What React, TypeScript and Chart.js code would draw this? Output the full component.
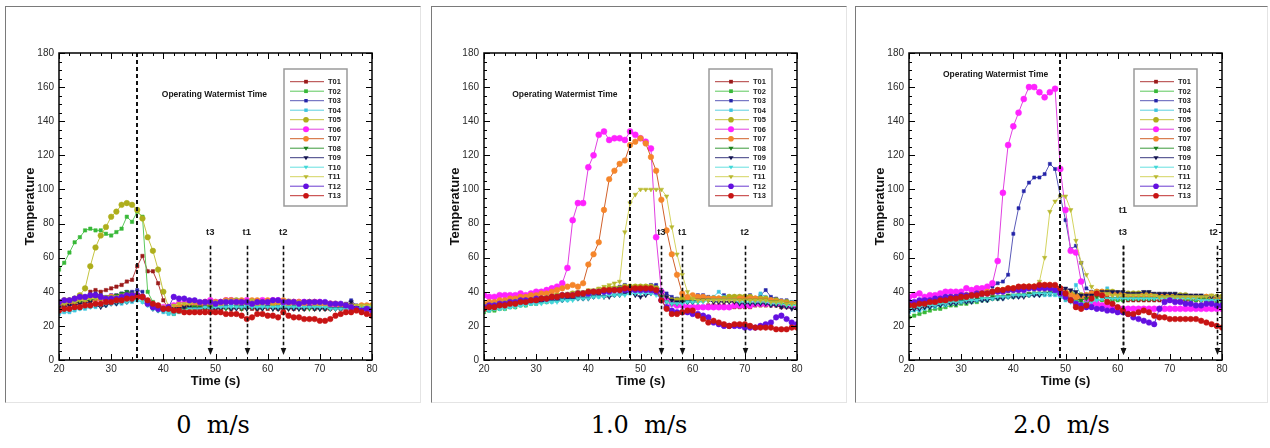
import React, { useEffect, useRef } from "react";
import { Chart, registerables } from "chart.js";

Chart.register(...registerables);

// ---------------- DATA ----------------
const TIMES = [
  20, 21, 22, 23, 24, 25, 26, 27, 28, 29,
  30, 31, 32, 33, 34, 35, 36, 37, 38, 39,
  40, 41, 42, 43, 44, 45, 46, 47, 48, 49,
  50, 51, 52, 53, 54, 55, 56, 57, 58, 59,
  60, 61, 62, 63, 64, 65, 66, 67, 68, 69,
  70, 71, 72, 73, 74, 75, 76, 77, 78, 79,
  80,
];

const SERIES_NAMES = ["T01", "T02", "T03", "T04", "T05", "T06", "T07", "T08", "T09", "T10", "T11", "T12", "T13"];
const CAPTIONS = ["0  m/s", "1.0  m/s", "2.0  m/s"];
const X_TICKS = [20, 30, 40, 50, 60, 70, 80];
const Y_TICKS = [0, 20, 40, 60, 80, 100, 120, 140, 160, 180];
const X_TITLE = "Time (s)";
const Y_TITLE = "Temperature";
const NOTE_TEXT = "Operating Watermist Time";

// Panel 1: 0 m/s
const P1_T01 = [33,33,34,34,35,36,40,41,40,41, 42,43,44,46,47,55,61,52,52,45, 35,30,30,31,30,29,30,29,30,29, 30,30,31,30,31,30,31,30,30,31, 30,31,30,31,31,30,31,30,31,30, 31,30,30,31,30,30,30,30,29,29, 29];
const P1_T02 = [53,57,63,69,72,76,77,76,76,74, 73,75,77,84,81,87,84,40,34,32, 30,28,27,29,30,31,32,32,33,33, 32,33,34,33,33,32,33,33,32,33, 33,32,32,33,32,33,32,33,32,32, 32,32,31,32,31,32,31,31,31,31, 31];
const P1_T03 = [32,33,34,35,36,37,38,39,38,37, 38,38,39,40,40,41,40,33,31,30, 29,30,31,30,28,31,31,32,32,33, 32,33,33,33,34,33,34,33,33,34, 33,34,33,33,34,33,33,34,33,32, 33,33,32,32,32,33,35,32,31,31, 31];
const P1_T04 = [27,28,28,29,30,30,31,31,32,32, 33,33,33,34,34,35,34,32,30,29, 28,27,27,28,29,30,30,31,31,31, 31,31,32,32,32,31,32,32,32,31, 32,32,31,32,32,31,32,32,31,32, 31,31,31,31,30,31,30,30,30,30, 30];
const P1_T05 = [34,35,35,36,38,42,55,66,73,78, 84,87,91,92,91,88,83,72,64,53, 40,31,30,29,29,30,31,32,32,33, 33,33,34,35,35,34,34,34,33,34, 34,33,34,34,33,34,34,33,34,33, 33,33,33,32,32,32,32,31,31,31, 31];
const P1_T06 = [33,33,34,34,35,35,36,36,36,36, 37,37,37,38,38,38,37,34,32,31, 31,31,32,33,33,34,34,33,34,35, 34,34,35,35,34,34,35,34,34,35, 34,35,35,34,34,34,34,34,33,34, 34,33,33,32,32,31,30,30,30,30, 30];
const P1_T07 = [32,33,33,34,34,35,35,36,36,36, 37,37,37,38,38,38,37,33,31,31, 30,30,31,32,32,33,34,33,34,34, 34,34,35,35,34,35,34,35,35,34, 35,34,34,35,34,34,34,33,34,34, 33,33,33,33,32,32,32,31,32,32, 32];
const P1_T08 = [33,33,34,34,34,35,35,36,36,37, 37,38,39,40,39,38,37,33,31,30, 30,29,29,30,30,31,31,31,30,31, 31,30,30,30,31,30,30,31,30,30, 31,30,30,30,30,31,30,30,30,30, 30,30,30,30,30,30,30,31,31,31, 31];
const P1_T09 = [31,31,32,32,33,33,34,32,31,32, 33,33,34,34,35,37,36,33,30,29, 29,29,30,30,31,31,30,30,31,30, 30,30,31,30,30,31,30,31,30,30, 31,30,30,30,30,30,30,30,31,30, 30,30,30,30,30,31,34,31,30,30, 30];
const P1_T10 = [28,29,29,30,30,31,31,32,32,33, 33,34,34,34,35,35,34,32,30,29, 29,28,28,29,29,30,30,30,31,30, 31,31,31,31,31,31,31,31,31,31, 31,31,31,31,31,31,31,31,31,31, 31,31,30,30,30,30,30,30,31,31, 31];
const P1_T11 = [33,33,34,34,35,35,36,36,36,37, 37,37,38,38,38,37,36,34,32,31, 31,31,32,33,33,33,34,34,34,34, 34,34,35,35,34,34,34,35,34,34, 34,34,34,34,35,34,34,34,34,33, 33,33,33,33,33,32,32,32,32,32, 32];
const P1_T12 = [34,35,35,36,37,37,38,38,37,36, 36,36,37,38,38,38,37,33,31,30, 30,31,37,36,36,35,35,34,34,34, 33,34,34,34,34,34,34,33,34,34, 34,35,35,34,34,34,33,34,34,34, 34,34,33,33,33,32,31,30,29,30, 29];
const P1_T13 = [29,30,30,31,31,32,32,33,33,34, 34,35,35,36,36,37,37,35,33,32, 30,30,29,29,28,28,28,28,28,28, 28,28,27,27,27,26,24,25,27,27, 26,26,25,28,26,25,25,24,24,24, 23,23,24,26,27,28,28,29,28,27, 26];

// Panel 2: 1.0 m/s
const P2_T01 = [31,32,32,33,33,34,34,35,35,35, 36,36,37,37,38,38,38,39,39,39, 40,40,40,41,41,41,41,42,42,42, 42,42,41,41,38,35,33,32,32,31, 31,31,31,32,32,32,32,31,31,31, 31,31,32,32,32,32,32,31,31,31, 31];
const P2_T02 = [28,29,29,30,30,31,31,32,32,33, 33,34,34,35,35,36,36,37,37,38, 38,39,39,40,40,41,41,42,42,43, 43,43,43,42,38,35,34,34,34,35, 35,35,35,36,36,36,36,35,35,35, 35,35,36,36,36,35,35,34,33,32, 32];
const P2_T03 = [30,31,31,32,32,33,33,34,34,34, 34,34,35,35,35,36,36,36,37,37, 38,38,39,40,41,42,43,44,43,42, 42,43,44,44,41,39,37,36,36,35, 37,38,38,37,36,36,38,37,37,36, 37,38,36,38,41,37,36,35,35,34, 34];
const P2_T04 = [29,29,30,30,31,31,32,32,33,33, 33,34,34,34,35,35,35,36,36,36, 37,37,37,38,38,38,39,39,39,39, 40,40,40,39,37,35,33,32,33,34, 34,35,35,36,37,40,37,36,36,36, 36,35,35,39,37,35,35,34,34,34, 34];
const P2_T05 = [32,32,33,33,34,34,35,35,35,36, 36,36,37,37,38,38,38,39,39,39, 40,40,41,41,42,42,42,43,43,43, 43,43,43,42,39,36,35,35,36,36, 36,36,36,36,36,36,36,37,37,37, 37,37,36,36,36,35,35,34,34,33, 33];
const P2_T06 = [38,37,37,38,38,38,38,39,38,39, 40,40,41,42,43,45,54,82,92,92, 113,120,132,134,129,130,130,129,134,132, 130,128,124,72,40,35,33,32,32,31, 31,31,31,31,31,31,31,31,32,32, 32,32,33,33,33,33,33,33,32,32, 32];
const P2_T07 = [33,34,34,35,35,36,36,37,37,38, 38,39,39,40,41,42,43,44,43,45, 56,62,69,88,106,111,115,117,126,128, 130,127,119,111,94,76,62,50,39,37, 38,37,37,36,36,36,35,35,35,36, 36,36,36,35,35,35,34,34,33,33, 33];
const P2_T08 = [30,30,31,31,32,32,33,33,34,34, 35,35,35,36,36,37,37,37,38,38, 39,39,40,40,41,41,42,42,42,42, 42,42,42,41,37,34,33,33,34,34, 34,34,35,35,35,35,35,35,35,35, 35,35,35,35,35,34,34,33,33,32, 32];
const P2_T09 = [30,31,31,32,32,33,33,34,33,34, 34,34,35,35,35,35,36,36,36,36, 36,37,38,37,37,38,38,39,40,38, 37,38,39,40,40,37,35,34,34,34, 34,35,35,35,34,34,34,34,34,33, 33,33,33,33,33,32,32,31,31,30, 30];
const P2_T10 = [29,29,30,30,30,31,31,32,32,33, 33,33,34,34,34,35,35,35,36,36, 36,37,37,37,38,38,38,38,39,39, 39,39,39,38,36,34,33,33,33,34, 34,34,34,35,35,35,35,35,35,34, 34,34,34,34,34,33,33,33,32,32, 32];
const P2_T11 = [32,32,33,33,34,34,35,35,35,36, 36,36,37,37,38,38,39,39,40,40, 41,41,42,43,44,45,46,75,92,97, 100,100,100,100,100,96,78,62,50,40, 36,35,35,35,35,35,35,35,35,35, 35,35,35,35,35,34,34,34,33,33, 33];
const P2_T12 = [31,32,32,33,33,34,34,35,35,35, 36,36,36,37,37,38,38,38,39,39, 39,40,40,40,40,41,41,41,41,41, 41,41,41,40,35,31,29,28,28,28, 27,27,26,25,22,21,20,20,20,20, 19,19,19,20,21,22,25,26,24,22, 21];
const P2_T13 = [30,31,31,32,32,33,33,34,34,35, 35,36,36,37,37,38,38,38,39,39, 40,40,40,41,41,41,41,42,42,42, 42,42,42,41,35,30,27,27,28,29, 29,26,24,22,23,22,21,20,21,21, 21,20,19,19,19,19,18,18,18,19, 19];

// Panel 3: 2.0 m/s
const P3_T01 = [31,32,32,33,33,34,34,35,35,36, 36,37,37,38,38,39,39,40,40,41, 41,41,42,42,42,42,42,42,41,40, 38,36,35,36,37,38,40,39,37,36, 36,36,35,35,35,35,35,35,35,35, 35,35,35,35,35,35,35,35,35,35, 35];
const P3_T02 = [25,26,27,28,29,30,30,31,32,32, 33,33,34,34,35,35,36,36,37,37, 37,38,38,38,39,39,39,40,40,40, 38,36,35,34,34,34,35,35,35,35, 35,35,36,36,36,36,36,36,37,37, 37,36,36,36,35,35,35,35,34,34, 34];
const P3_T03 = [31,31,32,32,33,33,34,34,35,35, 36,37,38,41,42,43,43,45,46,50, 74,89,99,104,107,107,109,115,112,96, 82,65,67,57,42,40,40,40,39,39, 39,39,38,38,38,38,38,38,38,38, 38,38,38,38,37,37,37,37,36,36, 36];
const P3_T04 = [28,29,29,30,31,31,32,32,33,33, 34,34,34,35,35,35,36,36,36,37, 37,37,38,38,38,38,38,38,38,37, 35,35,44,38,35,34,35,36,42,40, 38,37,37,37,37,37,37,37,37,37, 37,37,37,37,37,36,36,36,36,36, 36];
const P3_T05 = [33,33,34,34,35,35,36,36,37,37, 38,38,39,39,40,40,40,41,41,41, 42,42,42,43,43,43,43,43,42,41, 40,39,38,38,38,39,40,40,40,40, 39,39,39,39,39,39,39,38,38,38, 38,38,38,38,37,37,37,37,37,37, 37];
const P3_T06 = [37,38,39,37,38,38,39,40,40,40, 40,42,41,42,42,43,45,58,98,126, 137,145,153,160,160,157,154,157,159,112, 88,64,63,46,36,33,33,32,32,31, 30,30,30,30,30,30,30,30,30,30, 30,30,30,30,30,30,30,30,30,30, 30];
const P3_T07 = [32,33,33,34,34,35,35,36,36,37, 37,38,38,39,39,40,40,41,41,42, 42,42,43,43,43,44,44,44,43,42, 40,38,37,37,38,39,40,40,39,39, 39,38,38,38,38,38,38,38,38,38, 37,37,37,37,37,37,36,37,37,36, 36];
const P3_T08 = [30,30,31,31,32,32,33,33,34,34, 35,35,35,36,36,36,37,37,37,38, 38,38,38,39,39,39,39,39,39,38, 36,35,34,35,36,37,37,37,36,36, 36,36,36,36,36,36,36,36,37,37, 37,37,37,36,36,36,36,36,35,35, 35];
const P3_T09 = [29,30,30,31,31,32,32,33,33,33, 34,34,34,35,35,35,36,36,36,37, 37,37,37,38,38,38,39,39,40,40, 42,41,40,38,38,38,39,40,40,40, 40,40,39,39,39,40,40,39,39,39, 39,39,38,38,38,38,38,37,37,37, 37];
const P3_T10 = [30,31,31,32,32,32,33,33,34,34, 34,35,35,35,36,36,36,37,37,37, 38,38,38,38,39,39,39,39,39,38, 36,34,34,33,33,34,35,36,36,36, 36,36,36,36,36,36,36,36,36,36, 36,36,36,36,36,36,35,35,35,35, 35];
const P3_T11 = [32,33,33,34,34,35,35,36,36,37, 37,38,38,38,39,39,40,40,40,41, 41,41,42,42,43,46,60,87,93,96, 96,88,70,57,50,43,40,39,39,38, 38,38,38,38,38,38,38,38,37,37, 37,37,37,37,37,37,37,37,38,37, 37];
const P3_T12 = [34,34,35,35,35,36,36,37,37,37, 38,38,38,39,39,39,40,40,40,41, 41,41,41,42,42,42,42,42,41,39, 37,35,33,32,31,31,30,30,29,29, 28,28,27,25,24,23,22,21,30,34, 35,34,34,33,33,32,32,33,33,32, 32];
const P3_T13 = [32,32,33,33,34,34,35,35,36,36, 37,37,38,38,39,39,40,41,41,42, 42,43,43,43,43,44,44,44,44,42, 39,35,31,30,32,36,39,38,34,33, 31,29,27,27,28,29,28,26,25,25, 24,24,24,24,24,24,23,22,21,20, 19];

const PANEL1 = [P1_T01, P1_T02, P1_T03, P1_T04, P1_T05, P1_T06, P1_T07, P1_T08, P1_T09, P1_T10, P1_T11, P1_T12, P1_T13];
const PANEL2 = [P2_T01, P2_T02, P2_T03, P2_T04, P2_T05, P2_T06, P2_T07, P2_T08, P2_T09, P2_T10, P2_T11, P2_T12, P2_T13];
const PANEL3 = [P3_T01, P3_T02, P3_T03, P3_T04, P3_T05, P3_T06, P3_T07, P3_T08, P3_T09, P3_T10, P3_T11, P3_T12, P3_T13];
const PANELS = [PANEL1, PANEL2, PANEL3];

// annotation values (data units)
const WATERMIST_X = [35, 48, 49];
const NOTE_X = [39.7, 25.4, 26.5];
const NOTE_Y = [155.5, 155.5, 167.5];
const ARROW_LABELS = ["t3", "t1", "t2"];
const ARROW_X = [[49, 56, 63], [54, 58, 70], [61, 61, 79]];
const ARROW_LABEL_X = [[49, 56, 63], [54, 58, 70], [61, 61, 78.4]];
const ARROW_LABEL_Y = [[75, 75, 75], [75, 75, 75], [75, 87.5, 75]];
const ARROW_TOP = 67;
const ARROW_TIP = 3;

// ---------------- STYLES ----------------
const FONT = "Arial, 'Liberation Sans', Helvetica, sans-serif";
const LINE_COLORS = ["#b03a3a", "#5cc85c", "#5a5ab8", "#5cd0e0", "#c4c440", "#e040e0", "#d0602a", "#3a9a3a", "#3a3a80", "#66e0e0", "#d4d460", "#6a3ad0", "#c03030"];
const MARKER_COLORS = ["#9a1a1a", "#38b838", "#2424a8", "#3cc4e0", "#aeae1c", "#ff22ff", "#f5852a", "#1e821e", "#141450", "#40d8d8", "#b8b830", "#6410e0", "#c81414"];
const MARKER_STYLES = ["rect", "rect", "rect", "rect", "circle", "circle", "circle", "triangle", "triangle", "triangle", "triangle", "circle", "circle"];
const MARKER_ROT = [0, 0, 0, 0, 0, 0, 0, 180, 180, 180, 180, 0, 0];
const MARKER_RADIUS = [2.4, 2.4, 2.2, 2.2, 2.8, 3, 2.8, 2.6, 2.6, 2.4, 2.6, 2.8, 2.8];

const FRAME_LEFT = [5, 431, 855];
const FRAME_WIDTH = [416, 416, 413];
const CANVAS_W = 410;
const CANVAS_H = 394;

function drawMarker(ctx: CanvasRenderingContext2D, style: string, x: number, y: number, r: number, fill: string) {
  ctx.fillStyle = fill;
  ctx.beginPath();
  if (style === "rect") {
    const s = r * Math.SQRT1_2 * 1.1;
    ctx.rect(x - s, y - s, 2 * s, 2 * s);
  } else if (style === "circle") {
    ctx.arc(x, y, r, 0, Math.PI * 2);
  } else {
    ctx.moveTo(x - r, y - r * 0.6);
    ctx.lineTo(x + r, y - r * 0.6);
    ctx.lineTo(x, y + r);
    ctx.closePath();
  }
  ctx.fill();
}

function makeDeco(k: number) {
  return {
    id: "deco" + k,
    afterDatasetsDraw(chart: any) {
      const { ctx, chartArea: a } = chart;
      const xs = chart.scales.x;
      const ys = chart.scales.y;
      ctx.save();

      ctx.strokeStyle = "#111";
      ctx.lineWidth = 2;
      ctx.setLineDash([4, 3]);
      const wx = Math.round(xs.getPixelForValue(WATERMIST_X[k]));
      ctx.beginPath();
      ctx.moveTo(wx, a.top);
      ctx.lineTo(wx, a.bottom);
      ctx.stroke();

      ctx.setLineDash([]);
      ctx.font = "bold 8.5px " + FONT;
      ctx.fillStyle = "#151515";
      ctx.textAlign = "left";
      ctx.textBaseline = "middle";
      ctx.fillText(NOTE_TEXT, xs.getPixelForValue(NOTE_X[k]), ys.getPixelForValue(NOTE_Y[k]));

      for (let i = 0; i < 3; i++) {
        const ax = Math.round(xs.getPixelForValue(ARROW_X[k][i])) + 0.5;
        const yTop = ys.getPixelForValue(ARROW_TOP);
        const yTip = ys.getPixelForValue(ARROW_TIP);
        ctx.strokeStyle = "#111";
        ctx.lineWidth = 1.6;
        ctx.setLineDash([3.5, 2.5]);
        ctx.beginPath();
        ctx.moveTo(ax, yTop);
        ctx.lineTo(ax, yTip - 6);
        ctx.stroke();
        ctx.setLineDash([]);
        ctx.fillStyle = "#111";
        ctx.beginPath();
        ctx.moveTo(ax - 2.8, yTip - 7);
        ctx.lineTo(ax + 2.8, yTip - 7);
        ctx.lineTo(ax, yTip);
        ctx.closePath();
        ctx.fill();
        ctx.font = "bold 9.5px " + FONT;
        ctx.textAlign = "center";
        ctx.textBaseline = "middle";
        ctx.fillStyle = "#222";
        ctx.fillText(ARROW_LABELS[i], xs.getPixelForValue(ARROW_LABEL_X[k][i]), ys.getPixelForValue(ARROW_LABEL_Y[k][i]));
      }

      const lx = a.left + 225;
      const ly = a.top + 16;
      ctx.fillStyle = "#fff";
      ctx.fillRect(lx, ly, 63, 137);
      ctx.strokeStyle = "#9a9a9a";
      ctx.lineWidth = 1.5;
      ctx.strokeRect(lx, ly, 63, 137);
      for (let i = 0; i < SERIES_NAMES.length; i++) {
        const yy = ly + 12.7 + i * 9.5;
        ctx.strokeStyle = LINE_COLORS[i];
        ctx.lineWidth = 1;
        ctx.beginPath();
        ctx.moveTo(lx + 6, yy);
        ctx.lineTo(lx + 40, yy);
        ctx.stroke();
        drawMarker(ctx, MARKER_STYLES[i], lx + 22, yy, MARKER_RADIUS[i], MARKER_COLORS[i]);
        ctx.font = "bold 7.5px " + FONT;
        ctx.fillStyle = "#222";
        ctx.textAlign = "left";
        ctx.textBaseline = "middle";
        ctx.fillText(SERIES_NAMES[i], lx + 44, yy + 0.5);
      }

      ctx.strokeStyle = "#000";
      ctx.lineWidth = 1.5;
      ctx.strokeRect(a.left, a.top, a.width, a.height);

      ctx.lineWidth = 1;
      ctx.strokeStyle = "#000";
      ctx.beginPath();
      for (let v = 20; v <= 80; v += 2) {
        const px = Math.round(xs.getPixelForValue(v)) + 0.5;
        const len = v % 10 === 0 ? 6 : 3;
        ctx.moveTo(px, a.bottom);
        ctx.lineTo(px, a.bottom - len);
        ctx.moveTo(px, a.top);
        ctx.lineTo(px, a.top + len);
      }
      for (let v = 0; v <= 180; v += 5) {
        const py = Math.round(ys.getPixelForValue(v)) + 0.5;
        const len = v % 20 === 0 ? 6 : 3;
        ctx.moveTo(a.left, py);
        ctx.lineTo(a.left + len, py);
        ctx.moveTo(a.right, py);
        ctx.lineTo(a.right - len, py);
      }
      ctx.stroke();

      ctx.fillStyle = "#111";
      ctx.font = "bold 13px " + FONT;
      ctx.textAlign = "center";
      ctx.textBaseline = "middle";
      ctx.fillText(X_TITLE, (a.left + a.right) / 2, a.bottom + 21);
      ctx.save();
      ctx.translate(a.left - 29, (a.top + a.bottom) / 2);
      ctx.rotate(-Math.PI / 2);
      ctx.fillText(Y_TITLE, 0, 0);
      ctx.restore();

      ctx.restore();
    },
  };
}

function Panel({ k }: { k: number }) {
  const ref = useRef<HTMLCanvasElement>(null);
  useEffect(() => {
    if (!ref.current) return;
    const series = PANELS[k];
    const datasets = series.map((vals, i) => ({
      label: SERIES_NAMES[i],
      data: TIMES.map((t, j) => ({ x: t, y: vals[j] })),
      borderColor: LINE_COLORS[i],
      borderWidth: 1,
      backgroundColor: MARKER_COLORS[i],
      pointBackgroundColor: MARKER_COLORS[i],
      pointBorderColor: MARKER_COLORS[i],
      pointBorderWidth: 0.5,
      pointStyle: MARKER_STYLES[i],
      pointRotation: MARKER_ROT[i],
      pointRadius: MARKER_RADIUS[i],
      pointHoverRadius: MARKER_RADIUS[i],
      tension: 0,
      fill: false,
      order: 12 - i,
    }));
    const tickFont = { family: FONT, size: 10 };
    const chart = new Chart(ref.current, {
      type: "line",
      data: { datasets } as any,
      options: {
        animation: false,
        responsive: false,
        events: [],
        layout: { padding: { left: 0, right: CANVAS_W - 53 - 313, top: 46, bottom: 0 } },
        plugins: { legend: { display: false }, tooltip: { enabled: false } },
        scales: {
          x: {
            type: "linear",
            min: 20,
            max: 80,
            afterBuildTicks: (s: any) => {
              s.ticks = X_TICKS.map((v) => ({ value: v }));
            },
            ticks: { color: "#2a2a2a", font: tickFont, padding: 3, maxRotation: 0, autoSkip: false },
            grid: { display: false, drawTicks: false },
            border: { display: false },
            afterFit: (s: any) => {
              s.height = CANVAS_H - 46 - 307;
            },
          },
          y: {
            type: "linear",
            min: 0,
            max: 180,
            afterBuildTicks: (s: any) => {
              s.ticks = Y_TICKS.map((v) => ({ value: v }));
            },
            ticks: { color: "#2a2a2a", font: tickFont, padding: 5 },
            grid: { display: false, drawTicks: false },
            border: { display: false },
            afterFit: (s: any) => {
              s.width = 53;
            },
          },
        },
      } as any,
      plugins: [makeDeco(k)],
    });
    return () => chart.destroy();
  }, [k]);
  return (
    <canvas
      ref={ref}
      width={CANVAS_W}
      height={CANVAS_H}
      style={{ position: "absolute", left: 6 + 425 * k, top: 7, width: CANVAS_W, height: CANVAS_H }}
    />
  );
}

export default function App() {
  return (
    <div style={{ position: "absolute", left: 0, top: 0, width: 1270, height: 448, background: "#fff", overflow: "hidden" }}>
      {[0, 1, 2].map((k) => (
        <div
          key={"f" + k}
          style={{
            position: "absolute",
            left: FRAME_LEFT[k],
            top: 6,
            width: FRAME_WIDTH[k],
            height: 397,
            boxSizing: "border-box",
            borderTop: "1px solid #7a7a7a",
            borderLeft: "1px solid #7a7a7a",
            borderRight: "1px solid #e4e4e4",
            borderBottom: "1px solid #e4e4e4",
          }}
        />
      ))}
      {[0, 1, 2].map((k) => (
        <Panel key={"p" + k} k={k} />
      ))}
      {[0, 1, 2].map((k) => (
        <div
          key={"c" + k}
          style={{
            position: "absolute",
            left: FRAME_LEFT[k],
            top: 411,
            width: FRAME_WIDTH[k],
            textAlign: "center",
            fontFamily: "'DejaVu Serif', serif",
            fontSize: 24,
            lineHeight: "28px",
            whiteSpace: "pre",
            color: "#000",
          }}
        >
          {CAPTIONS[k]}
        </div>
      ))}
    </div>
  );
}
